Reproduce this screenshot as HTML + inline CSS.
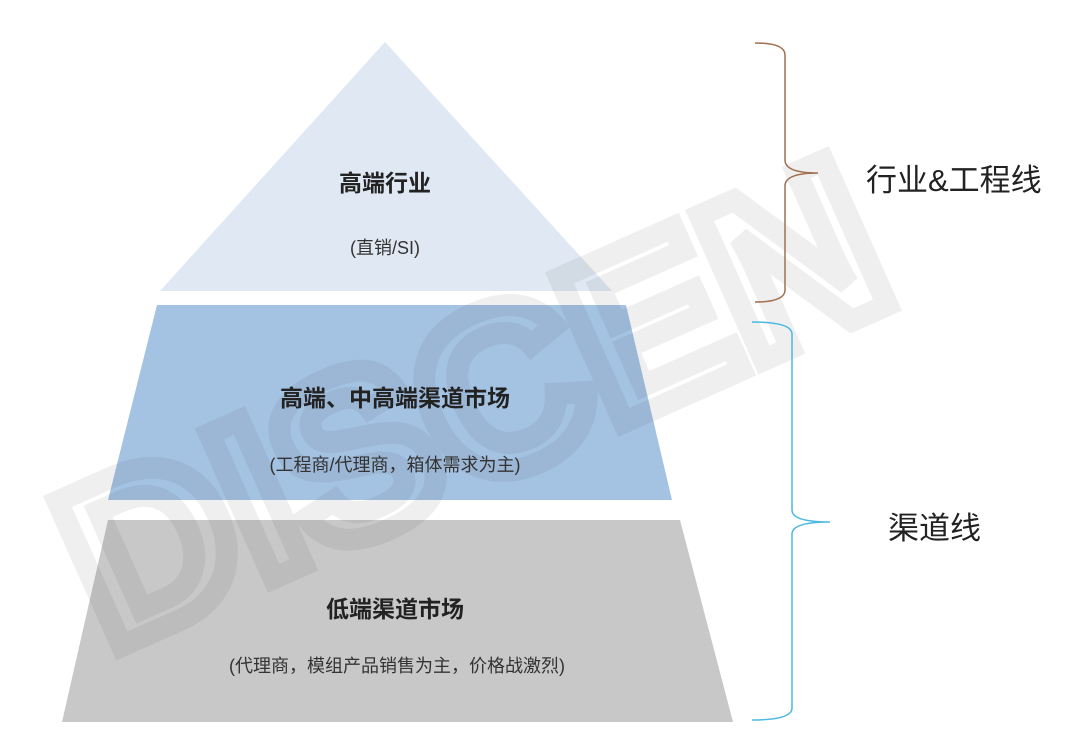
<!DOCTYPE html>
<html><head><meta charset="utf-8"><style>
body{margin:0;background:#fff;width:1080px;height:737px;overflow:hidden;position:relative;font-family:"Liberation Sans","Noto Sans CJK SC",sans-serif}
.t{position:absolute;text-align:center;color:#222;white-space:nowrap}
.b{font-weight:bold;font-size:23px}
.s{font-size:18px;color:#333}
</style></head><body>
<svg width="1080" height="737" style="position:absolute;left:0;top:0">
<polygon points="385,42 612,291 160,291" fill="#dfe8f3"/>
<polygon points="157,305 626,305 672,500 108,500" fill="#a4c2e2"/>
<polygon points="108,520 680,520 733,722 62,722" fill="#c8c8c8"/>
<g transform="translate(480,420) rotate(-24)" opacity="0.07">
<text x="0" y="0" text-anchor="middle" dominant-baseline="middle" font-family="Liberation Sans" font-weight="bold" font-size="230" fill="none" stroke="#333" stroke-width="22">DISCEN</text>
</g>
<path d="M755,43 Q785,43 785,55 L785,160 Q785,173 818,173 Q785,173 785,186 L785,290 Q785,302 755,302" fill="none" stroke="#a0704f" stroke-width="1.5"/>
<path d="M752,322 Q792,322 792,334 L792,510 Q792,522 830,522 Q792,522 792,534 L792,708 Q792,720 752,720" fill="none" stroke="#4ab8e0" stroke-width="1.5"/>
</svg>
<div class="t b" style="left:285px;top:164px;width:200px">高端行业</div>
<div class="t s" style="left:285px;top:234px;width:200px">(直销/SI)</div>
<div class="t b" style="left:195px;top:379px;width:400px">高端、中高端渠道市场</div>
<div class="t s" style="left:195px;top:451px;width:400px">(工程商/代理商，箱体需求为主)</div>
<div class="t b" style="left:195px;top:590px;width:400px">低端渠道市场</div>
<div class="t s" style="left:147px;top:652px;width:500px">(代理商，模组产品销售为主，价格战激烈)</div>
<div class="t" style="left:866px;top:155px;font-size:31px;color:#222">行业&amp;工程线</div>
<div class="t" style="left:888px;top:503px;font-size:31px;color:#222">渠道线</div>
</body></html>
